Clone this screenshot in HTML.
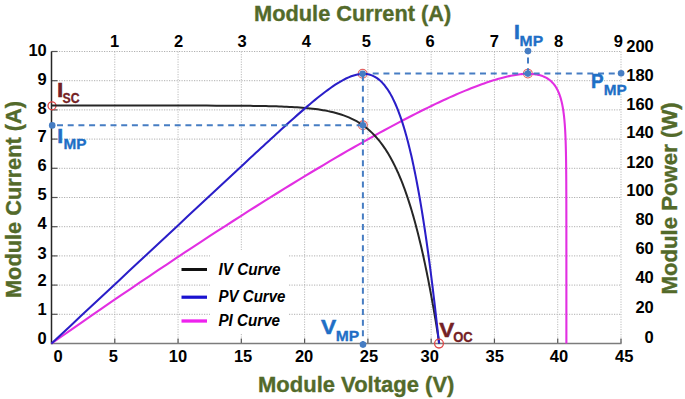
<!DOCTYPE html>
<html><head><meta charset="utf-8"><style>
html,body{margin:0;padding:0;background:#fff;}
svg{display:block;}
text{font-family:"Liberation Sans",sans-serif;font-weight:bold;}
</style></head><body>
<svg width="685" height="399" viewBox="0 0 685 399">
<rect width="685" height="399" fill="#fff"/>
<g stroke="#b0b0b0" stroke-width="1" stroke-dasharray="1.2 1.3" fill="none">
<line x1="114.78" y1="51.5" x2="114.78" y2="343.5" stroke="#bababa"/>
<line x1="178.06" y1="51.5" x2="178.06" y2="343.5" stroke="#bababa"/>
<line x1="241.33" y1="51.5" x2="241.33" y2="343.5" stroke="#bababa"/>
<line x1="304.61" y1="51.5" x2="304.61" y2="343.5" stroke="#bababa"/>
<line x1="367.89" y1="51.5" x2="367.89" y2="343.5" stroke="#bababa"/>
<line x1="431.17" y1="51.5" x2="431.17" y2="343.5" stroke="#bababa"/>
<line x1="494.44" y1="51.5" x2="494.44" y2="343.5" stroke="#bababa"/>
<line x1="557.72" y1="51.5" x2="557.72" y2="343.5" stroke="#bababa"/>
<line x1="621.00" y1="51.5" x2="621.00" y2="343.5" stroke="#bababa"/>
<line x1="51.5" y1="314.30" x2="621.0" y2="314.30"/>
<line x1="51.5" y1="285.10" x2="621.0" y2="285.10"/>
<line x1="51.5" y1="255.90" x2="621.0" y2="255.90"/>
<line x1="51.5" y1="226.70" x2="621.0" y2="226.70"/>
<line x1="51.5" y1="197.50" x2="621.0" y2="197.50"/>
<line x1="51.5" y1="168.30" x2="621.0" y2="168.30"/>
<line x1="51.5" y1="139.10" x2="621.0" y2="139.10"/>
<line x1="51.5" y1="109.90" x2="621.0" y2="109.90"/>
<line x1="51.5" y1="80.70" x2="621.0" y2="80.70"/>
<line x1="51.5" y1="51.50" x2="621.0" y2="51.50"/>
</g>
<g stroke="#555" stroke-width="1.2">
<line x1="114.78" y1="338.5" x2="114.78" y2="343.5"/>
<line x1="178.06" y1="338.5" x2="178.06" y2="343.5"/>
<line x1="241.33" y1="338.5" x2="241.33" y2="343.5"/>
<line x1="304.61" y1="338.5" x2="304.61" y2="343.5"/>
<line x1="367.89" y1="338.5" x2="367.89" y2="343.5"/>
<line x1="431.17" y1="338.5" x2="431.17" y2="343.5"/>
<line x1="494.44" y1="338.5" x2="494.44" y2="343.5"/>
<line x1="557.72" y1="338.5" x2="557.72" y2="343.5"/>
<line x1="621.00" y1="338.5" x2="621.00" y2="343.5"/>
<line x1="51.5" y1="314.30" x2="57.5" y2="314.30"/>
<line x1="51.5" y1="285.10" x2="57.5" y2="285.10"/>
<line x1="51.5" y1="255.90" x2="57.5" y2="255.90"/>
<line x1="51.5" y1="226.70" x2="57.5" y2="226.70"/>
<line x1="51.5" y1="197.50" x2="57.5" y2="197.50"/>
<line x1="51.5" y1="168.30" x2="57.5" y2="168.30"/>
<line x1="51.5" y1="139.10" x2="57.5" y2="139.10"/>
<line x1="51.5" y1="109.90" x2="57.5" y2="109.90"/>
<line x1="51.5" y1="80.70" x2="57.5" y2="80.70"/>
<line x1="51.5" y1="51.50" x2="57.5" y2="51.50"/>
</g>
<line x1="51.5" y1="343.5" x2="621.5" y2="343.5" stroke="#7c7c7c" stroke-width="1.5"/>
<line x1="51.5" y1="51.5" x2="51.5" y2="344.2" stroke="#262626" stroke-width="1.5"/>
<!-- legend box -->
<rect x="210" y="250" width="78" height="83" fill="#fff"/>
<!-- label boxes -->
<g fill="#000" font-size="16.5" >
<text x="114.6" y="46.8" text-anchor="middle">1</text>
<text x="178.6" y="46.8" text-anchor="middle">2</text>
<text x="242.0" y="46.8" text-anchor="middle">3</text>
<text x="306.4" y="46.8" text-anchor="middle">4</text>
<text x="366.3" y="46.8" text-anchor="middle">5</text>
<text x="430.2" y="46.8" text-anchor="middle">6</text>
<text x="494.4" y="46.8" text-anchor="middle">7</text>
<text x="558.6" y="46.8" text-anchor="middle">8</text>
<text x="618.4" y="46.8" text-anchor="middle">9</text>
<text x="58.2" y="361.6" text-anchor="middle">0</text>
<text x="113.3" y="361.6" text-anchor="middle">5</text>
<text x="178.0" y="361.6" text-anchor="middle">10</text>
<text x="243.1" y="361.6" text-anchor="middle">15</text>
<text x="304.1" y="361.6" text-anchor="middle">20</text>
<text x="369.0" y="361.6" text-anchor="middle">25</text>
<text x="429.7" y="361.6" text-anchor="middle">30</text>
<text x="494.8" y="361.6" text-anchor="middle">35</text>
<text x="559.0" y="361.6" text-anchor="middle">40</text>
<text x="624.2" y="361.6" text-anchor="middle">45</text>
<text x="46.8" y="343.9" text-anchor="end">0</text>
<text x="46.8" y="314.6" text-anchor="end">1</text>
<text x="46.8" y="286.2" text-anchor="end">2</text>
<text x="46.8" y="258.7" text-anchor="end">3</text>
<text x="46.8" y="229.4" text-anchor="end">4</text>
<text x="46.8" y="200.3" text-anchor="end">5</text>
<text x="46.8" y="170.7" text-anchor="end">6</text>
<text x="46.8" y="142.2" text-anchor="end">7</text>
<text x="46.8" y="113.8" text-anchor="end">8</text>
<text x="46.8" y="84.7" text-anchor="end">9</text>
<text x="46.8" y="56.2" text-anchor="end">10</text>
<text x="653.8" y="342.7" text-anchor="end">0</text>
<text x="653.8" y="312.7" text-anchor="end">20</text>
<text x="653.8" y="283.3" text-anchor="end">40</text>
<text x="653.8" y="254.4" text-anchor="end">60</text>
<text x="653.8" y="224.5" text-anchor="end">80</text>
<text x="653.8" y="196.1" text-anchor="end">100</text>
<text x="653.8" y="167.5" text-anchor="end">120</text>
<text x="653.8" y="138.4" text-anchor="end">140</text>
<text x="653.8" y="110.1" text-anchor="end">160</text>
<text x="653.8" y="80.5" text-anchor="end">180</text>
<text x="653.8" y="52.3" text-anchor="end">200</text>
</g>
<!-- rings -->
<circle cx="52" cy="105.8" r="4" fill="none" stroke="#e04545" stroke-width="1.3"/>
<g fill="none" stroke="#e36262" stroke-width="1.1">
<circle cx="362.6" cy="73.8" r="4.4"/>
<circle cx="362.9" cy="125.3" r="4.4"/>
<circle cx="527.9" cy="73.6" r="4.4"/>
</g>
<!-- curves -->
<path d="M51.50,343.50 L61.85,336.24 L72.07,329.10 L82.16,322.08 L92.12,315.18 L101.94,308.40 L111.64,301.74 L121.20,295.20 L130.63,288.78 L139.92,282.47 L149.09,276.29 L158.12,270.22 L167.02,264.26 L175.78,258.43 L184.42,252.70 L192.92,247.09 L201.29,241.60 L209.53,236.22 L217.64,230.95 L225.61,225.79 L233.46,220.75 L241.17,215.81 L248.76,210.98 L256.22,206.26 L263.54,201.65 L270.74,197.14 L277.82,192.74 L284.76,188.44 L291.58,184.25 L298.28,180.15 L304.85,176.16 L311.29,172.27 L317.62,168.48 L323.82,164.78 L329.90,161.19 L335.86,157.68 L341.71,154.28 L347.43,150.96 L353.04,147.74 L358.54,144.60 L363.92,141.56 L369.19,138.60 L374.34,135.73 L379.39,132.95 L384.33,130.25 L389.16,127.63 L393.88,125.10 L398.50,122.64 L403.01,120.26 L407.42,117.96 L411.74,115.74 L415.95,113.59 L420.06,111.52 L424.08,109.51 L428.01,107.58 L431.84,105.72 L435.58,103.92 L439.23,102.19 L442.79,100.53 L446.26,98.93 L449.65,97.40 L452.95,95.92 L456.17,94.51 L459.31,93.15 L462.37,91.85 L465.35,90.61 L468.26,89.43 L471.09,88.29 L473.84,87.21 L476.53,86.19 L479.14,85.21 L481.69,84.28 L484.16,83.40 L486.57,82.56 L488.92,81.77 L491.20,81.03 L493.43,80.33 L495.59,79.67 L497.69,79.05 L499.73,78.47 L501.72,77.93 L503.65,77.43 L505.53,76.97 L507.36,76.54 L509.13,76.15 L510.85,75.79 L512.53,75.46 L514.16,75.17 L515.74,74.91 L517.28,74.68 L518.77,74.48 L520.22,74.30 L521.63,74.16 L522.99,74.04 L524.32,73.95 L525.61,73.89 L526.86,73.85 L528.07,73.83 L529.25,73.84 L530.39,73.87 L531.50,73.93 L532.58,74.00 L533.62,74.10 L534.64,74.21 L535.62,74.35 L536.57,74.50 L537.50,74.68 L538.40,74.87 L539.27,75.08 L540.11,75.30 L540.93,75.55 L541.72,75.80 L542.49,76.08 L543.24,76.37 L543.96,76.67 L544.67,76.99 L545.35,77.32 L546.01,77.66 L546.65,78.01 L547.26,78.38 L547.87,78.76 L548.45,79.15 L549.01,79.56 L549.56,79.97 L550.09,80.39 L550.60,80.83 L551.10,81.27 L551.58,81.73 L552.05,82.19 L552.50,82.66 L552.94,83.14 L553.37,83.63 L553.78,84.13 L554.18,84.63 L554.56,85.14 L554.94,85.66 L555.30,86.19 L555.65,86.72 L555.99,87.26 L556.32,87.80 L556.64,88.36 L556.95,88.91 L557.25,89.48 L557.54,90.05 L557.82,90.62 L558.09,91.20 L558.36,91.79 L558.61,92.38 L558.86,92.97 L559.10,93.57 L559.33,94.17 L559.56,94.78 L559.77,95.39 L559.98,96.01 L560.19,96.63 L560.38,97.25 L560.58,97.88 L560.76,98.51 L560.94,99.14 L561.11,99.78 L561.28,100.42 L561.44,101.06 L561.60,101.71 L561.76,102.35 L561.90,103.01 L562.05,103.66 L562.18,104.32 L562.32,104.97 L562.45,105.64 L562.57,106.30 L562.70,106.97 L562.81,107.63 L562.93,108.30 L563.04,108.97 L563.15,109.65 L563.25,110.32 L563.35,111.00 L563.45,111.68 L563.54,112.36 L563.63,113.04 L563.72,113.73 L563.80,114.41 L563.89,115.10 L563.97,115.79 L564.04,116.48 L564.12,117.17 L564.19,117.86 L564.26,118.56 L564.33,119.25 L564.40,119.95 L564.46,120.64 L564.52,121.34 L564.58,122.04 L564.64,122.74 L564.69,123.44 L564.75,124.14 L564.80,124.85 L564.85,125.55 L564.90,126.26 L564.95,126.96 L564.95,126.96 L565.17,130.54 L565.35,134.14 L565.51,137.75 L565.64,141.37 L565.75,145.00 L565.85,148.64 L565.93,152.29 L566.00,155.94 L566.06,159.60 L566.11,163.26 L566.15,166.92 L566.18,170.59 L566.21,174.26 L566.24,177.93 L566.26,181.60 L566.28,185.27 L566.29,188.95 L566.31,192.62 L566.32,196.30 L566.33,199.98 L566.34,203.66 L566.34,207.33 L566.35,211.01 L566.35,214.69 L566.36,218.37 L566.36,222.05 L566.36,225.73 L566.37,229.41 L566.37,233.09 L566.37,236.77 L566.37,240.45 L566.37,244.13 L566.38,247.81 L566.38,251.49 L566.38,255.17 L566.38,258.85 L566.38,262.53 L566.38,266.21 L566.38,269.89 L566.38,273.57 L566.38,277.25 L566.38,280.93 L566.38,284.61 L566.38,288.29 L566.38,291.97 L566.38,295.65 L566.38,299.34 L566.38,303.02 L566.38,306.70 L566.38,310.38 L566.38,314.06 L566.38,317.74 L566.38,321.42 L566.38,325.10 L566.38,328.78 L566.38,332.46 L566.38,336.14 L566.38,339.82 L566.38,343.50" fill="none" stroke="#e22fe2" stroke-width="2.1" stroke-linejoin="round"/>
<path d="M51.50,105.54 L61.19,105.54 L70.89,105.54 L80.58,105.54 L90.28,105.54 L99.97,105.54 L109.67,105.55 L119.36,105.55 L129.06,105.55 L138.75,105.55 L148.44,105.55 L158.14,105.55 L167.83,105.56 L177.53,105.56 L187.22,105.57 L196.92,105.59 L206.61,105.61 L216.31,105.63 L226.00,105.67 L235.69,105.73 L245.39,105.81 L247.97,105.83 L250.56,105.86 L253.14,105.89 L255.73,105.93 L258.31,105.97 L260.90,106.01 L263.49,106.06 L266.07,106.11 L268.66,106.17 L271.24,106.23 L273.83,106.30 L276.41,106.37 L279.00,106.45 L281.58,106.55 L284.17,106.65 L286.75,106.76 L289.34,106.88 L291.92,107.01 L294.51,107.16 L297.09,107.32 L299.68,107.50 L302.26,107.69 L304.85,107.91 L307.43,108.15 L310.02,108.40 L312.60,108.69 L315.19,109.00 L317.77,109.35 L320.36,109.73 L322.94,110.15 L325.53,110.60 L328.11,111.11 L330.70,111.66 L333.28,112.27 L335.87,112.93 L338.46,113.67 L341.04,114.47 L343.63,115.35 L346.21,116.32 L348.80,117.38 L351.38,118.55 L353.97,119.82 L356.55,121.22 L359.14,122.76 L361.72,124.43 L364.31,126.27 L366.89,128.28 L369.48,130.48 L372.06,132.88 L374.65,135.50 L377.23,138.36 L379.82,141.48 L382.40,144.88 L384.99,148.58 L387.57,152.61 L390.16,156.98 L392.74,161.74 L395.33,166.89 L397.91,172.47 L400.50,178.51 L401.29,180.45 L402.08,182.44 L402.87,184.48 L403.67,186.56 L404.46,188.70 L405.25,190.88 L406.04,193.12 L406.83,195.41 L407.62,197.74 L408.41,200.14 L409.20,202.58 L410.00,205.08 L410.79,207.64 L411.58,210.25 L412.37,212.92 L413.16,215.65 L413.95,218.44 L414.74,221.29 L415.54,224.20 L416.33,227.17 L417.12,230.20 L417.91,233.30 L418.70,236.46 L419.49,239.69 L420.28,242.98 L421.08,246.34 L421.87,249.76 L422.66,253.25 L423.45,256.82 L424.24,260.45 L425.03,264.15 L425.82,267.92 L426.62,271.77 L427.41,275.68 L428.20,279.67 L428.99,283.73 L429.78,287.87 L430.57,292.08 L431.36,296.37 L432.16,300.73 L432.95,305.17 L433.74,309.69 L434.53,314.28 L435.32,318.95 L436.11,323.71 L436.90,328.53 L437.69,333.44 L438.49,338.43 L439.28,343.50" fill="none" stroke="#262626" stroke-width="2" stroke-linejoin="round"/>
<path d="M51.50,343.50 L61.19,334.45 L70.88,325.40 L80.56,316.36 L90.25,307.31 L99.94,298.26 L109.63,289.21 L119.32,280.17 L129.01,271.12 L138.69,262.07 L148.38,253.02 L158.07,243.98 L167.76,234.93 L177.45,225.88 L187.13,216.84 L196.82,207.79 L206.51,198.75 L216.20,189.71 L225.89,180.68 L235.57,171.66 L245.26,162.65 L247.85,160.25 L250.43,157.85 L253.01,155.45 L255.60,153.06 L258.18,150.67 L260.76,148.28 L263.35,145.89 L265.93,143.51 L268.51,141.13 L271.10,138.75 L273.68,136.38 L276.27,134.02 L278.85,131.66 L281.43,129.31 L284.02,126.96 L286.60,124.62 L289.18,122.30 L291.77,119.98 L294.35,117.68 L296.93,115.39 L299.52,113.11 L302.10,110.86 L304.68,108.62 L307.27,106.40 L309.85,104.21 L312.43,102.04 L315.02,99.90 L317.60,97.80 L320.18,95.74 L322.77,93.72 L325.35,91.75 L327.94,89.83 L330.52,87.97 L333.10,86.18 L335.69,84.46 L338.27,82.83 L340.85,81.29 L343.44,79.85 L346.02,78.53 L348.60,77.34 L351.19,76.30 L353.77,75.41 L356.35,74.70 L358.94,74.19 L361.52,73.90 L364.10,73.84 L366.69,74.06 L369.27,74.56 L371.85,75.39 L374.44,76.57 L377.02,78.14 L379.61,80.13 L382.19,82.59 L384.77,85.54 L387.36,89.04 L389.94,93.13 L392.52,97.85 L395.11,103.25 L397.69,109.38 L400.27,116.29 L401.06,118.57 L401.86,120.92 L402.65,123.36 L403.44,125.88 L404.23,128.48 L405.02,131.16 L405.81,133.93 L406.60,136.79 L407.39,139.74 L408.18,142.78 L408.97,145.90 L409.76,149.12 L410.55,152.44 L411.35,155.85 L412.14,159.35 L412.93,162.96 L413.72,166.66 L414.51,170.46 L415.30,174.36 L416.09,178.37 L416.88,182.48 L417.67,186.69 L418.46,191.02 L419.25,195.44 L420.05,199.98 L420.84,204.62 L421.63,209.38 L422.42,214.24 L423.21,219.22 L424.00,224.31 L424.79,229.52 L425.58,234.84 L426.37,240.27 L427.16,245.82 L427.95,251.49 L428.74,257.28 L429.54,263.18 L430.33,269.21 L431.12,275.35 L431.91,281.61 L432.70,288.00 L433.49,294.51 L434.28,301.14 L435.07,307.89 L435.86,314.76 L436.65,321.76 L437.44,328.88 L438.24,336.13 L439.03,343.50" fill="none" stroke="#2a1ec8" stroke-width="2.05" stroke-linejoin="round"/>
<circle cx="439" cy="343.6" r="4.4" fill="none" stroke="#e04545" stroke-width="1.3"/>
<!-- markers -->
<g fill="#467dc3">
<circle cx="52.2" cy="125.4" r="3.3"/>
<circle cx="362.6" cy="73.8" r="3.3"/>
<circle cx="362.9" cy="125.3" r="3.3"/>
<circle cx="363" cy="344.6" r="3.3"/>
<circle cx="528" cy="51.1" r="3.3"/>
<circle cx="527.9" cy="73.6" r="3.3"/>
<circle cx="621.1" cy="73.2" r="3.3"/>
</g>
<!-- dashed -->
<g stroke="#467dc3" stroke-width="2" stroke-dasharray="6 4.7" fill="none">
<line x1="57" y1="125.3" x2="360" y2="125.3"/>
<line x1="362.9" y1="75.2" x2="362.9" y2="344.5" stroke-dasharray="6 4.63"/>
<line x1="372.7" y1="73.4" x2="621" y2="73.4" stroke-dasharray="6 4.73"/>
<line x1="528" y1="57.5" x2="528" y2="73.6"/>
</g>
<!-- legend -->
<line x1="181.5" y1="269.5" x2="207" y2="269.5" stroke="#111" stroke-width="3"/>
<line x1="181.5" y1="297.2" x2="207" y2="297.2" stroke="#1a12d0" stroke-width="3.2"/>
<line x1="181.5" y1="321" x2="207" y2="321" stroke="#ee22ee" stroke-width="3.3"/>
<g font-style="italic" font-size="15.8" fill="#000">
<text x="218.5" y="274.6" textLength="62" lengthAdjust="spacingAndGlyphs">IV Curve</text>
<text x="218.5" y="302.1" textLength="67" lengthAdjust="spacingAndGlyphs">PV Curve</text>
<text x="218.5" y="325.5" textLength="61.5" lengthAdjust="spacingAndGlyphs">PI Curve</text>
</g>
<!-- annotations -->
<g font-size="21">
<text x="57.3" y="96.7" fill="#742125" stroke="#742125" stroke-width="0.7">I</text>
<text x="62.6" y="102.6" font-size="14.3" stroke="#742125" stroke-width="0.3" fill="#742125" textLength="17" lengthAdjust="spacingAndGlyphs">SC</text>
<text x="57.3" y="143" fill="#1f6fc6" stroke="#1f6fc6" stroke-width="0.6">I</text>
<text x="63.6" y="149.4" font-size="14.3" stroke="#1f6fc6" stroke-width="0.3" fill="#1f6fc6" textLength="23" lengthAdjust="spacingAndGlyphs">MP</text>
<text x="321" y="334.1" fill="#1f6fc6" stroke="#1f6fc6" stroke-width="0.5" textLength="15.2" lengthAdjust="spacingAndGlyphs">V</text>
<text x="335.8" y="340.6" font-size="14.3" stroke="#1f6fc6" stroke-width="0.3" fill="#1f6fc6" textLength="23.5" lengthAdjust="spacingAndGlyphs">MP</text>
<text x="439.2" y="336.9" fill="#742125" stroke="#742125" stroke-width="0.5" textLength="15" lengthAdjust="spacingAndGlyphs">V</text>
<text x="453.2" y="342.1" font-size="14.3" stroke="#742125" stroke-width="0.3" fill="#742125" textLength="19.5" lengthAdjust="spacingAndGlyphs">OC</text>
<text x="514" y="39.4" fill="#1f6fc6" stroke="#1f6fc6" stroke-width="0.6">I</text>
<text x="519.6" y="45.6" font-size="14.3" stroke="#1f6fc6" stroke-width="0.3" fill="#1f6fc6" textLength="23.5" lengthAdjust="spacingAndGlyphs">MP</text>
<text x="591" y="88.3" fill="#1f6fc6" stroke="#1f6fc6" stroke-width="0.5" textLength="12.6" lengthAdjust="spacingAndGlyphs">P</text>
<text x="603.7" y="94.6" font-size="14.3" stroke="#1f6fc6" stroke-width="0.3" fill="#1f6fc6" textLength="23" lengthAdjust="spacingAndGlyphs">MP</text>
</g>
<!-- titles -->
<g font-size="22.2" fill="#536a2a" stroke="#536a2a" stroke-width="0.35">
<text x="254" y="20.5" textLength="197.3" lengthAdjust="spacingAndGlyphs">Module Current (A)</text>
<text x="258" y="391.8" textLength="196.4" lengthAdjust="spacingAndGlyphs">Module Voltage (V)</text>
<text transform="translate(20.8,298) rotate(-90)" x="0" y="0" textLength="197" lengthAdjust="spacingAndGlyphs">Module Current (A)</text>
<text transform="translate(677.3,294.5) rotate(-90)" x="0" y="0" textLength="192.2" lengthAdjust="spacingAndGlyphs">Module Power (W)</text>
</g>
</svg>
</body></html>
